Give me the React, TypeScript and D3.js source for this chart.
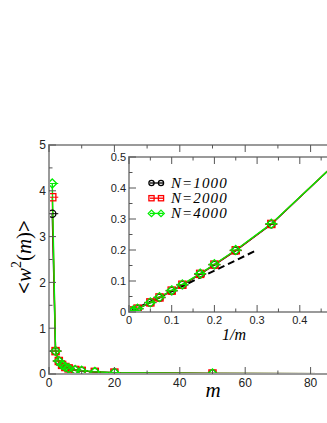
import React, { useEffect, useRef } from 'react';
import * as d3 from 'd3';

// m values and <w^2(m)> for each system size
const mValues = [1, 2, 3, 4, 5, 6, 8, 10, 14, 20, 50, 100];
const w2N1000 = [3.5, 0.5, 0.283, 0.198, 0.152, 0.122, 0.087, 0.068, 0.046, 0.03, 0.01, 0.004];
const w2N2000 = [3.86, 0.5, 0.284, 0.199, 0.153, 0.123, 0.088, 0.069, 0.047, 0.031, 0.011, 0.005];
const w2N4000 = [4.16, 0.5, 0.285, 0.2, 0.154, 0.124, 0.089, 0.07, 0.048, 0.031, 0.011, 0.005];
const seriesLabels = ['N=1000', 'N=2000', 'N=4000'];
const seriesColors = ['#000000', '#ff0000', '#00ee00'];
const seriesShapes = ['circle', 'square', 'diamond'];

// dashed reference line in the inset
const dashX = [0, 0.3];
const dashY = [0, 0.2];

const mainXTicks = [0, 20, 40, 60, 80];
const mainYTicks = [0, 1, 2, 3, 4, 5];
const insetXTicks = [0, 0.1, 0.2, 0.3, 0.4];
const insetYTicks = [0, 0.1, 0.2, 0.3, 0.4, 0.5];

const App = () => {
  const ref = useRef<SVGSVGElement>(null);

  useEffect(() => {
    const svg = d3.select(ref.current);
    svg.selectAll('*').remove();

    const series = [w2N1000, w2N2000, w2N4000];
    const frameColor = '#9a9a9a';
    const tickColor = '#555';
    const tickFont = '"Liberation Sans", Arial, sans-serif';
    const serif = '"Liberation Serif", "Times New Roman", serif';

    const drawShape = (g: any, shape: string, x: number, y: number, color: string, s: number, fill: string) => {
      if (shape === 'circle') {
        g.append('circle').attr('cx', x).attr('cy', y).attr('r', s)
          .attr('fill', fill).attr('stroke', color).attr('stroke-width', 1.3);
      } else if (shape === 'square') {
        g.append('rect').attr('x', x - s).attr('y', y - s)
          .attr('width', 2 * s).attr('height', 2 * s)
          .attr('fill', fill).attr('stroke', color).attr('stroke-width', 1.3);
      } else {
        const d = s * 1.25;
        g.append('path')
          .attr('d', `M${x},${y - d}L${x + d},${y}L${x},${y + d}L${x - d},${y}Z`)
          .attr('fill', fill).attr('stroke', color).attr('stroke-width', 1.3);
      }
    };

    const drawMarker = (g: any, shape: string, x: number, y: number, color: string) => {
      // horizontal error bar
      g.append('line')
        .attr('x1', x - 6).attr('x2', x + 6)
        .attr('y1', y).attr('y2', y)
        .attr('stroke', color).attr('stroke-width', 1);
      drawShape(g, shape, x, y, color, 3.6, 'none');
    };

    const drawPanel = (opts: any) => {
      const { x, y, xTicks, yTicks, xMinor, yMinor, xFmt, yFmt, id, fontSize, labelOffset } = opts;
      const [x0, x1] = x.range();
      const [y0, y1] = y.range();
      const g = svg.append('g');

      g.append('rect')
        .attr('x', x0).attr('y', y1)
        .attr('width', x1 - x0).attr('height', y0 - y1)
        .attr('fill', '#fff');

      svg.append('clipPath').attr('id', id)
        .append('rect')
        .attr('x', x0).attr('y', y1)
        .attr('width', x1 - x0).attr('height', y0 - y1);

      const plot = g.append('g').attr('clip-path', `url(#${id})`);

      // frame
      g.append('rect')
        .attr('x', x0).attr('y', y1)
        .attr('width', x1 - x0).attr('height', y0 - y1)
        .attr('fill', 'none').attr('stroke', frameColor).attr('stroke-width', 2);

      // ticks, inward on all four sides
      const ticks = g.append('g').attr('stroke', tickColor).attr('stroke-width', 1);
      const addX = (vals: number[], len: number) => vals.forEach(v => {
        ticks.append('line').attr('x1', x(v)).attr('x2', x(v)).attr('y1', y0).attr('y2', y0 - len);
        ticks.append('line').attr('x1', x(v)).attr('x2', x(v)).attr('y1', y1).attr('y2', y1 + len);
      });
      const addY = (vals: number[], len: number) => vals.forEach(v => {
        ticks.append('line').attr('y1', y(v)).attr('y2', y(v)).attr('x1', x0).attr('x2', x0 + len);
        ticks.append('line').attr('y1', y(v)).attr('y2', y(v)).attr('x1', x1).attr('x2', x1 - len);
      });
      addX(xTicks, 7);
      addX(xMinor, 3.5);
      addY(yTicks, 7);
      addY(yMinor, 3.5);

      g.selectAll('.xl').data(xTicks).enter().append('text')
        .attr('x', (d: number) => x(d)).attr('y', y0 + labelOffset)
        .attr('text-anchor', 'middle')
        .style('font-family', tickFont).style('font-size', `${fontSize}px`).attr('fill', '#222')
        .text((d: number) => xFmt(d));
      g.selectAll('.yl').data(yTicks).enter().append('text')
        .attr('x', x0 - 3).attr('y', (d: number) => y(d) + fontSize * 0.36)
        .attr('text-anchor', 'end')
        .style('font-family', tickFont).style('font-size', `${fontSize}px`).attr('fill', '#222')
        .text((d: number) => yFmt(d));

      return plot;
    };

    // main panel
    const xMain = d3.scaleLinear().domain([0, 100]).range([49, 376]);
    const yMain = d3.scaleLinear().domain([0, 5]).range([374, 145]);
    const mainPlot = drawPanel({
      x: xMain, y: yMain,
      xTicks: mainXTicks, yTicks: mainYTicks,
      xMinor: [10, 30, 50, 70, 90], yMinor: [0.5, 1.5, 2.5, 3.5, 4.5],
      xFmt: (d: number) => `${d}`, yFmt: (d: number) => `${d}`,
      id: 'clipMain', fontSize: 12, labelOffset: 13,
    });

    const lineMain = d3.line<number>()
      .x((_, i) => xMain(mValues[i]))
      .y(d => yMain(d));
    series.forEach((s, k) => {
      mainPlot.append('path').datum(s)
        .attr('fill', 'none').attr('stroke', seriesColors[k]).attr('stroke-width', 1.4)
        .attr('d', lineMain);
    });
    series.forEach((s, k) => {
      s.forEach((v, i) => drawMarker(mainPlot, seriesShapes[k], xMain(mValues[i]), yMain(v), seriesColors[k]));
    });

    // inset panel
    const xIn = d3.scaleLinear().domain([0, 0.5]).range([129, 342.5]);
    const yIn = d3.scaleLinear().domain([0, 0.5]).range([312, 157]);
    const inPlot = drawPanel({
      x: xIn, y: yIn,
      xTicks: insetXTicks, yTicks: insetYTicks,
      xMinor: [0.05, 0.15, 0.25, 0.35, 0.45], yMinor: [0.05, 0.15, 0.25, 0.35, 0.45],
      xFmt: (d: number) => (d === 0 ? '0' : d.toFixed(1)),
      yFmt: (d: number) => (d === 0 ? '0' : d.toFixed(1)),
      id: 'clipInset', fontSize: 11, labelOffset: 12,
    });

    inPlot.append('path')
      .datum(dashX.map((d, i) => [d, dashY[i]]))
      .attr('fill', 'none').attr('stroke', '#000').attr('stroke-width', 2)
      .attr('stroke-dasharray', '7,4')
      .attr('d', d3.line<number[]>().x(d => xIn(d[0])).y(d => yIn(d[1])));

    const lineIn = d3.line<number>()
      .x((_, i) => xIn(1 / mValues[i]))
      .y(d => yIn(d));
    series.forEach((s, k) => {
      inPlot.append('path').datum(s)
        .attr('fill', 'none').attr('stroke', seriesColors[k]).attr('stroke-width', 1.4)
        .attr('d', lineIn);
    });
    series.forEach((s, k) => {
      s.forEach((v, i) => drawMarker(inPlot, seriesShapes[k], xIn(1 / mValues[i]), yIn(v), seriesColors[k]));
    });

    // legend
    seriesLabels.forEach((lab, k) => {
      const ly = 183 + k * 15.2;
      const lg = svg.append('g');
      lg.append('line').attr('x1', 150).attr('x2', 163).attr('y1', ly).attr('y2', ly)
        .attr('stroke', seriesColors[k]).attr('stroke-width', 1.3);
      [151.5, 161].forEach(px => drawShape(lg, seriesShapes[k], px, ly, seriesColors[k], 2.6, 'none'));
      lg.append('text').attr('x', 171).attr('y', ly + 5)
        .style('font-family', serif).style('font-size', '15px').style('font-style', 'italic')
        .style('letter-spacing', '1.1px')
        .text(lab);
    });

    // axis titles
    svg.append('text')
      .attr('x', 213).attr('y', 397).attr('text-anchor', 'middle')
      .style('font-family', serif).style('font-size', '21px').style('font-style', 'italic')
      .text('m');
    svg.append('text')
      .attr('x', 234).attr('y', 340).attr('text-anchor', 'middle')
      .style('font-family', serif).style('font-size', '16px').style('font-style', 'italic')
      .text('1/m');

    const yl = svg.append('text')
      .attr('transform', 'translate(31,257) rotate(-90)')
      .attr('text-anchor', 'middle')
      .style('font-family', serif).style('font-size', '21px');
    yl.append('tspan').style('font-weight', 'bold').text('<');
    yl.append('tspan').style('font-style', 'italic').text('w');
    yl.append('tspan').attr('dy', -10).style('font-size', '14px').text('2');
    yl.append('tspan').attr('dy', 10).text('(');
    yl.append('tspan').style('font-style', 'italic').text('m');
    yl.append('tspan').text(')');
    yl.append('tspan').style('font-weight', 'bold').text('>');
  }, []);

  return (
    <svg ref={ref} width={327} height={423} style={{ position: 'absolute', left: 0, top: 0, background: '#fff' }} />
  );
};

export default App;
